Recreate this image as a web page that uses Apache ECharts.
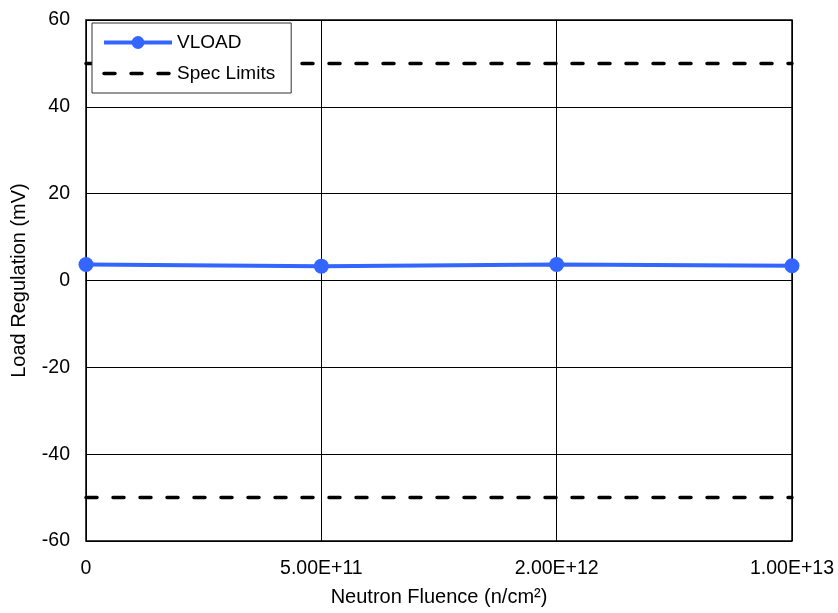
<!DOCTYPE html>
<html><head><meta charset="utf-8">
<script src="https://cdn.jsdelivr.net/npm/echarts@6/dist/echarts.min.js"></script>
<style>html,body{margin:0;padding:0;background:#fff}#c{width:838px;height:613px}</style>
</head><body><div id="c"></div>
<script>
const categories = ['0', '5.00E+11', '2.00E+12', '1.00E+13'];
const vload = [3.7, 3.3, 3.7, 3.4];
const specUpper = [50, 50, 50, 50];
const specLower = [-50, -50, -50, -50];
const yTicks = {min: -60, max: 60, interval: 20};

const chart = echarts.init(document.getElementById('c'));
const font = 'Liberation Sans, Arial, sans-serif';
const dash = {color: '#000', width: 3.5, type: [11, 16], cap: 'round'};
chart.setOption({
  animation: false,
  textStyle: {fontFamily: font},
  grid: {left: 86, right: 46, top: 20, bottom: 72, show: true, borderColor: '#000', borderWidth: 1.5},
  legend: {
    left: 92, top: 23, orient: 'vertical',
    backgroundColor: '#fff', borderColor: '#333', borderWidth: 1,
    padding: [10, 16, 10, 10], itemGap: 12, itemWidth: 68, itemHeight: 16,
    textStyle: {fontSize: 19, color: '#000', fontFamily: font},
    data: [
      {name: 'VLOAD', lineStyle: {width: 4}},
      {name: 'Spec Limits', lineStyle: {width: 3.5}, itemStyle: {color: 'rgba(0,0,0,0)', borderWidth: 0}}
    ]
  },
  xAxis: {
    type: 'category', data: categories, boundaryGap: false,
    axisLine: {lineStyle: {color: '#000', width: 1}}, axisTick: {show: false},
    axisLabel: {fontSize: 19.5, color: '#000', margin: 18, fontFamily: font},
    splitLine: {show: true, lineStyle: {color: '#000', width: 1}},
    name: 'Neutron Fluence (n/cm²)', nameLocation: 'middle', nameGap: 46,
    nameTextStyle: {fontSize: 20, color: '#000', fontFamily: font}
  },
  yAxis: {
    type: 'value', min: yTicks.min, max: yTicks.max, interval: yTicks.interval,
    axisLine: {show: true, lineStyle: {color: '#000'}}, axisTick: {show: false},
    axisLabel: {fontSize: 19.5, color: '#000', margin: 16, fontFamily: font},
    splitLine: {show: true, lineStyle: {color: '#000', width: 1}},
    name: 'Load Regulation (mV)', nameLocation: 'middle', nameGap: 57,
    nameTextStyle: {fontSize: 20, color: '#000', fontFamily: font}
  },
  series: [
    {name: 'VLOAD', type: 'line', data: vload, symbol: 'circle', symbolSize: 15,
     itemStyle: {color: '#3366ff'}, lineStyle: {color: '#3366ff', width: 4}, z: 5},
    {name: 'Spec Limits', type: 'line', data: specUpper, symbol: 'none',
     lineStyle: dash, itemStyle: {color: '#000'}},
    {name: 'Spec Limits', type: 'line', data: specLower, symbol: 'none',
     lineStyle: dash, itemStyle: {color: '#000'}}
  ]
});
</script></body></html>
